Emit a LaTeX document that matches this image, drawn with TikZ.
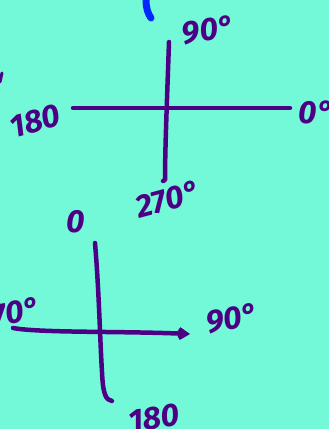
\documentclass[tikz,border=0pt]{standalone}
\usepackage{fontspec}
\setsansfont{Fira Sans}
\usetikzlibrary{arrows.meta}
\definecolor{aqua}{RGB}{115,249,216}
\definecolor{ink}{RGB}{78,0,132}
\definecolor{pen}{RGB}{0,40,255}
\tikzset{
  stroke/.style={draw=ink,line width=4.5pt,line cap=round,line join=round},
  lbl/.style={text=ink,inner sep=0pt,font=\sffamily\bfseries\itshape\fontsize{32}{32}\selectfont}
}
\begin{document}
\begin{tikzpicture}[x=1pt,y=-1pt,>={Straight Barb[length=7pt,width=9pt]}]
\useasboundingbox (0,0) rectangle (329,429);
\fill[aqua] (0,0) rectangle (329,429);
% first axes
\coordinate (aW) at (73,108);
\coordinate (aE) at (290,108);
\coordinate (aN) at (169,42);
\coordinate (aS) at (165,180);
\draw[stroke] (aW) -- (aE);
\draw[stroke] (aN) .. controls (167,100) and (165,150) .. (aS) -- (163,181);
\node[lbl,rotate=8] (a90) at (208,30) {90°};
\node[lbl,rotate=15] (a180) at (35,121) {180};
\node[lbl] (a0) at (316,112) {0°};
\node[lbl,rotate=15] (a270) at (168,199) {270°};
% second axes
\coordinate (bW) at (13,328);
\coordinate (bE) at (190,334);
\coordinate (bN) at (95,243);
\coordinate (bS) at (112,401);
\draw[stroke,->] (bW) .. controls (40,333) and (120,331) .. (bE);
\draw[stroke] (bN) .. controls (99,290) and (100,340) .. (102,372)
  .. controls (103,395) and (106,400) .. (bS);
\node[lbl] (b0) at (76,222) {0};
\node[lbl,anchor=east,rotate=10] (b270) at (40,308) {270°};
\node[lbl,rotate=10] (b90) at (232,318) {90°};
\node[lbl,rotate=8] (b180) at (154,418) {180};
% stray marks
\draw[draw=pen,line width=7pt,line cap=round] (146,0) .. controls (146,8) and (148,14) .. (151,18);
\draw[stroke,line width=3pt] (0,82) -- (2,73);
\end{tikzpicture}
\end{document}
